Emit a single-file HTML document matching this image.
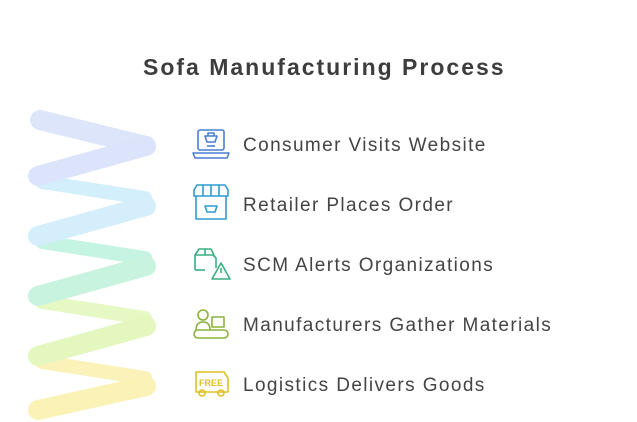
<!DOCTYPE html>
<html><head><style>
body{margin:0;width:637px;height:422px;background:#fff;overflow:hidden;font-family:"Liberation Sans",sans-serif;}
.t{position:absolute;left:143px;width:370px;text-align:left;top:54px;font-size:23px;font-weight:bold;color:#3d3d3d;letter-spacing:2px;}
.i{position:absolute;left:243px;font-size:19px;color:#444;letter-spacing:1.4px;}
svg{position:absolute;left:0;top:0}
</style></head><body>
<svg width="637" height="422">
<g stroke-linecap="round" fill="none" stroke-width="20">
<line x1="42" y1="182" x2="145" y2="198" stroke="#d2effb" stroke-width="14"/>
<line x1="42" y1="242" x2="145" y2="258" stroke="#c6f4e2" stroke-width="14"/>
<line x1="42" y1="302" x2="145" y2="318" stroke="#e6f8c4" stroke-width="14"/>
<line x1="42" y1="362" x2="145" y2="378" stroke="#faf2b8" stroke-width="14"/>
<line x1="40" y1="120" x2="146" y2="146" stroke="#dde5fa"/>
<line x1="146" y1="146" x2="38" y2="176" stroke="#dbe4fa"/>
<line x1="146" y1="206" x2="38" y2="236" stroke="#d4effb"/>
<line x1="146" y1="266" x2="38" y2="296" stroke="#c8f4df"/>
<line x1="146" y1="326" x2="38" y2="356" stroke="#e4f7bf"/>
<line x1="146" y1="386" x2="38" y2="410" stroke="#fbf2b6"/>
</g>
<g fill="none" stroke-width="1.6" stroke-linejoin="round">
<g stroke="#4a7fd0"><rect x="198" y="130" width="26" height="20" rx="2"/><path d="M193 153h36l-2 5h-32z"/><path d="M205 136h12l-2 6h-8z M208 136v-3h6v3"/><line x1="207" y1="146" x2="215" y2="146"/></g>
<g stroke="#2e9bd0"><path d="M194 196h34v-6l-3-5h-28l-3 5z"/><path d="M196 196v23h30v-23"/><path d="M203 185v11M211 185v11M219 185v11"/><path d="M205 206h12l-2 6h-8z"/></g>
<g stroke="#3aaf80"><path d="M195 270v-15h18l3 3v10"/><path d="M195 255l4-6h12l3 6M205 249v6"/><path d="M195 270h10"/><path d="M221 263l-9 16h18z"/><line x1="221" y1="268" x2="221" y2="273"/></g>
<g stroke="#8ab23a"><circle cx="203" cy="315" r="5"/><path d="M196 330c0-6 3-8 7-8s7 2 7 8"/><rect x="212" y="317" width="12" height="10"/><rect x="194" y="330" width="34" height="8" rx="4"/></g>
<g stroke="#e0c020"><path d="M196 392v-20h28l4 6v14z"/><circle cx="202" cy="393" r="3"/><circle cx="221" cy="393" r="3"/></g>
</g>
<text x="199" y="386" font-size="9" font-weight="bold" fill="#e0c020" font-family="Liberation Sans">FREE</text>
</svg>
<div class="t">Sofa Manufacturing Process</div>
<div class="i" style="top:135px">Consumer Visits Website</div>
<div class="i" style="top:195px">Retailer Places Order</div>
<div class="i" style="top:255px">SCM Alerts Organizations</div>
<div class="i" style="top:315px">Manufacturers Gather Materials</div>
<div class="i" style="top:375px">Logistics Delivers Goods</div>
</body></html>
